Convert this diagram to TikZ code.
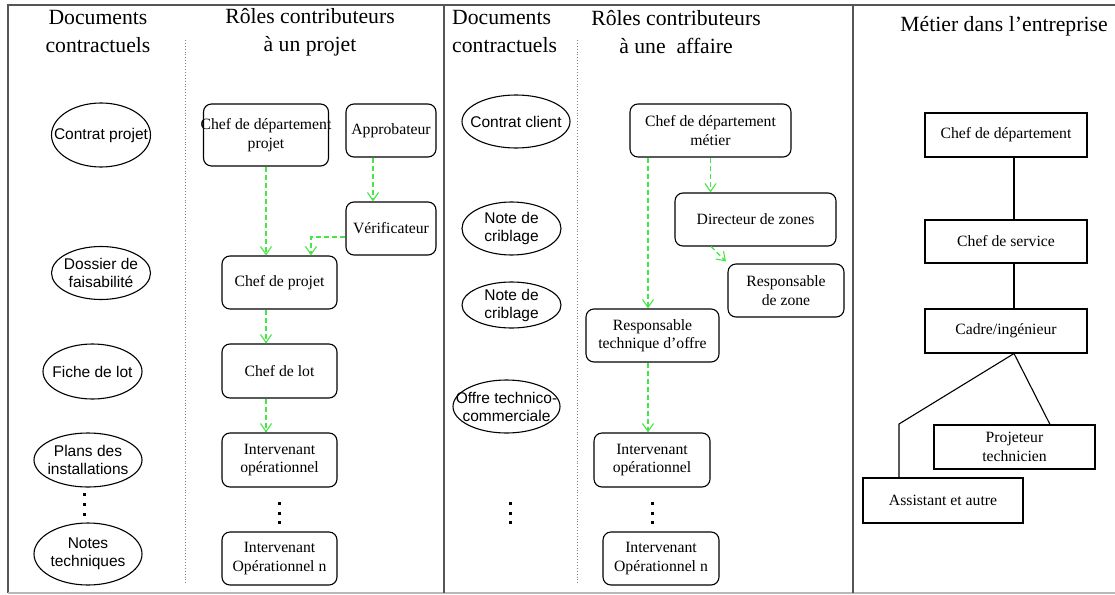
\documentclass[tikz,border=0pt]{standalone}
\usepackage{fontspec}
\setmainfont{Liberation Serif}
\setsansfont{Liberation Sans}
\usetikzlibrary{arrows.meta}
\definecolor{arrgreen}{RGB}{70,230,70}
\definecolor{framec}{RGB}{85,85,85}
\begin{document}
\begin{tikzpicture}[x=1pt,y=-1pt,
 rbox/.style={draw, line width=1.1pt, rounded corners=8pt, inner sep=0pt, align=center, font=\fontsize{15.7}{18.5}\selectfont},
 sbox/.style={draw, line width=1.1pt, inner sep=0pt, align=center, font=\fontsize{15.7}{18.5}\selectfont},
 doctext/.style={inner sep=0pt, align=center, font=\sffamily\fontsize{15.5}{18}\selectfont},
 docline/.style={line width=1.1pt},
 hdr/.style={inner sep=0pt, font=\fontsize{21.7}{28}\selectfont},
 arr/.style={draw=arrgreen, line width=1.3pt, dash pattern=on 5pt off 3pt, -{Straight Barb[length=8pt,width=11pt,line width=1.1pt]}},
 link/.style={line width=1.1pt},
 sep/.style={draw=gray, dotted, line width=0.9pt},
 dotsq/.style={fill=black},
]
\useasboundingbox (0,0) rectangle (1115,594);

% frame
\draw[framec, line width=1.3pt] (8,593) -- (8,5) -- (1115,5);
\draw[gray!55, line width=1.3pt] (8,593) -- (1115,593);
\draw[framec, line width=1.3pt] (444,5) -- (444,593);
\draw[framec, line width=1.3pt] (853,5) -- (853,593);
\draw[sep] (185,40) -- (185,584);
\draw[sep] (577,40) -- (577,584);

% headers
\node[hdr, align=center] (h1) at (98,32) {Documents\\contractuels};
\node[hdr, align=center] (h2) at (310,32) {Rôles contributeurs\\à un projet};
\node[hdr, align=left, anchor=west] (h3) at (452,32) {Documents\\contractuels};
\node[hdr, align=center] (h4) at (676,32) {Rôles contributeurs\\à une~~affaire};
\node[hdr, align=center] (h5) at (1004,26) {Métier dans l’entreprise};

% section 1 documents
\node[doctext] (cp) at (101,135) {Contrat projet};
\draw[docline] (cp.center) ellipse [x radius=49.5, y radius=32];
\node[doctext] (df) at (101,273) {Dossier de\\faisabilité};
\draw[docline] (df.center) ellipse [x radius=49.5, y radius=26.5];
\node[doctext] (fl) at (92.5,371.5) {Fiche de lot};
\draw[docline] (fl.center) ellipse [x radius=49.5, y radius=27.5];
\node[doctext] (pi) at (88,460) {Plans des\\installations};
\draw[docline] (pi.center) ellipse [x radius=54, y radius=27];
\node[doctext] (nt) at (88,554) {Notes\\techniques};
\draw[docline] (nt.center) ellipse [x radius=54, y radius=31];
\foreach \y in {494,504,514} \fill[dotsq] (82.5,\y-1.5) rectangle ++(3,3);

% section 1 roles
\node[rbox, minimum width=125pt, minimum height=62pt] (dp) at (266,135) {\makebox[118pt]{Chef de département}\\projet};
\node[rbox, minimum width=90pt, minimum height=53pt] (ap) at (391,130.5) {Approbateur};
\node[rbox, minimum width=90pt, minimum height=53pt] (ver) at (391,228.5) {Vérificateur};
\node[rbox, minimum width=115pt, minimum height=53pt] (cpj) at (279.5,282.5) {Chef de projet};
\node[rbox, minimum width=115pt, minimum height=54pt] (cl) at (279.5,371) {Chef de lot};
\node[rbox, minimum width=115pt, minimum height=54pt] (io1) at (279.5,460) {Intervenant\\opérationnel};
\node[rbox, minimum width=115pt, minimum height=53pt] (ion1) at (279.5,558.5) {Intervenant\\Opérationnel n};
\foreach \y in {503,513,522} \fill[dotsq] (277.5,\y-1.5) rectangle ++(3,3);

\draw[arr] (dp.south) -- (dp.south |- cpj.north);
\draw[arr] ([xshift=-18pt]ap.south) -- ([xshift=-18pt]ap.south |- ver.north);
\draw[arr] ([yshift=-8.5pt]ver.west) -| ([xshift=31.5pt]cpj.north);
\draw[arr] (dp.south |- cpj.south) -- (dp.south |- cl.north);
\draw[arr] (dp.south |- cl.south) -- (dp.south |- io1.north);

% section 2 documents
\node[doctext] (cc) at (516,121.5) {Contrat client};
\draw[docline] (cc.center) ellipse [x radius=54, y radius=26.5];
\node[doctext] (nc1) at (511.5,228.5) {Note de\\criblage};
\draw[docline] (nc1.center) ellipse [x radius=49.5, y radius=26.5];
\node[doctext] (nc2) at (511.5,305) {Note de\\criblage};
\draw[docline] (nc2.center) ellipse [x radius=49.5, y radius=23];
\node[doctext] (otc) at (506.5,406.5) {Offre technico-\\commerciale};
\draw[docline] (otc.center) ellipse [x radius=53.5, y radius=26.5];
\foreach \y in {503,513,522} \fill[dotsq] (508.5,\y-1.5) rectangle ++(3,3);

% section 2 roles
\node[rbox, minimum width=161pt, minimum height=53pt] (cdm) at (710.5,130.5) {Chef de département\\métier};
\node[rbox, minimum width=161pt, minimum height=53pt] (dz) at (755.5,219.5) {Directeur de zones};
\node[rbox, minimum width=116pt, minimum height=53pt] (rz) at (786,290.5) {Responsable\\de zone};
\node[rbox, minimum width=133pt, minimum height=53pt] (rto) at (652.5,335.5) {Responsable\\technique d’offre};
\node[rbox, minimum width=116pt, minimum height=54pt] (io2) at (652,460) {Intervenant\\opérationnel};
\node[rbox, minimum width=116pt, minimum height=53pt] (ion2) at (661,558.5) {Intervenant\\Opérationnel n};
\foreach \y in {503,513,522} \fill[dotsq] (650.5,\y-1.5) rectangle ++(3,3);

\coordinate (c2) at (648,0);
\draw[arr] (c2 |- cdm.south) -- (c2 |- rto.north);
\draw[arr] (cdm.south) -- (cdm.south |- dz.north);
\draw[arr] ([xshift=-44.5pt]dz.south) -- ([xshift=-60pt,yshift=2pt]rz.north);
\draw[arr] (c2 |- rto.south) -- (c2 |- io2.north);

% section 3
\node[sbox, minimum width=162pt, minimum height=44pt] (cd) at (1006,135) {Chef de département};
\node[sbox, minimum width=162pt, minimum height=43pt] (cs) at (1006,241.5) {Chef de service};
\node[sbox, minimum width=162pt, minimum height=44pt] (ci) at (1006,331) {Cadre/ingénieur};
\node[sbox, minimum width=161pt, minimum height=44pt] (pt) at (1014.5,447) {Projeteur\\technicien};
\node[sbox, minimum width=160pt, minimum height=45pt] (aa) at (943,500.5) {Assistant et autre};
\coordinate (bend) at (899,424);
\draw[link] ([xshift=8pt]cd.south) -- ([xshift=8pt]cs.north);
\draw[link] ([xshift=8pt]cs.south) -- ([xshift=8pt]ci.north);
\draw[link] ([xshift=8pt]ci.south) -- (bend) -- (bend |- aa.north);
\draw[link] ([xshift=8pt]ci.south) -- ([xshift=35.5pt]pt.north);
\end{tikzpicture}
\end{document}
